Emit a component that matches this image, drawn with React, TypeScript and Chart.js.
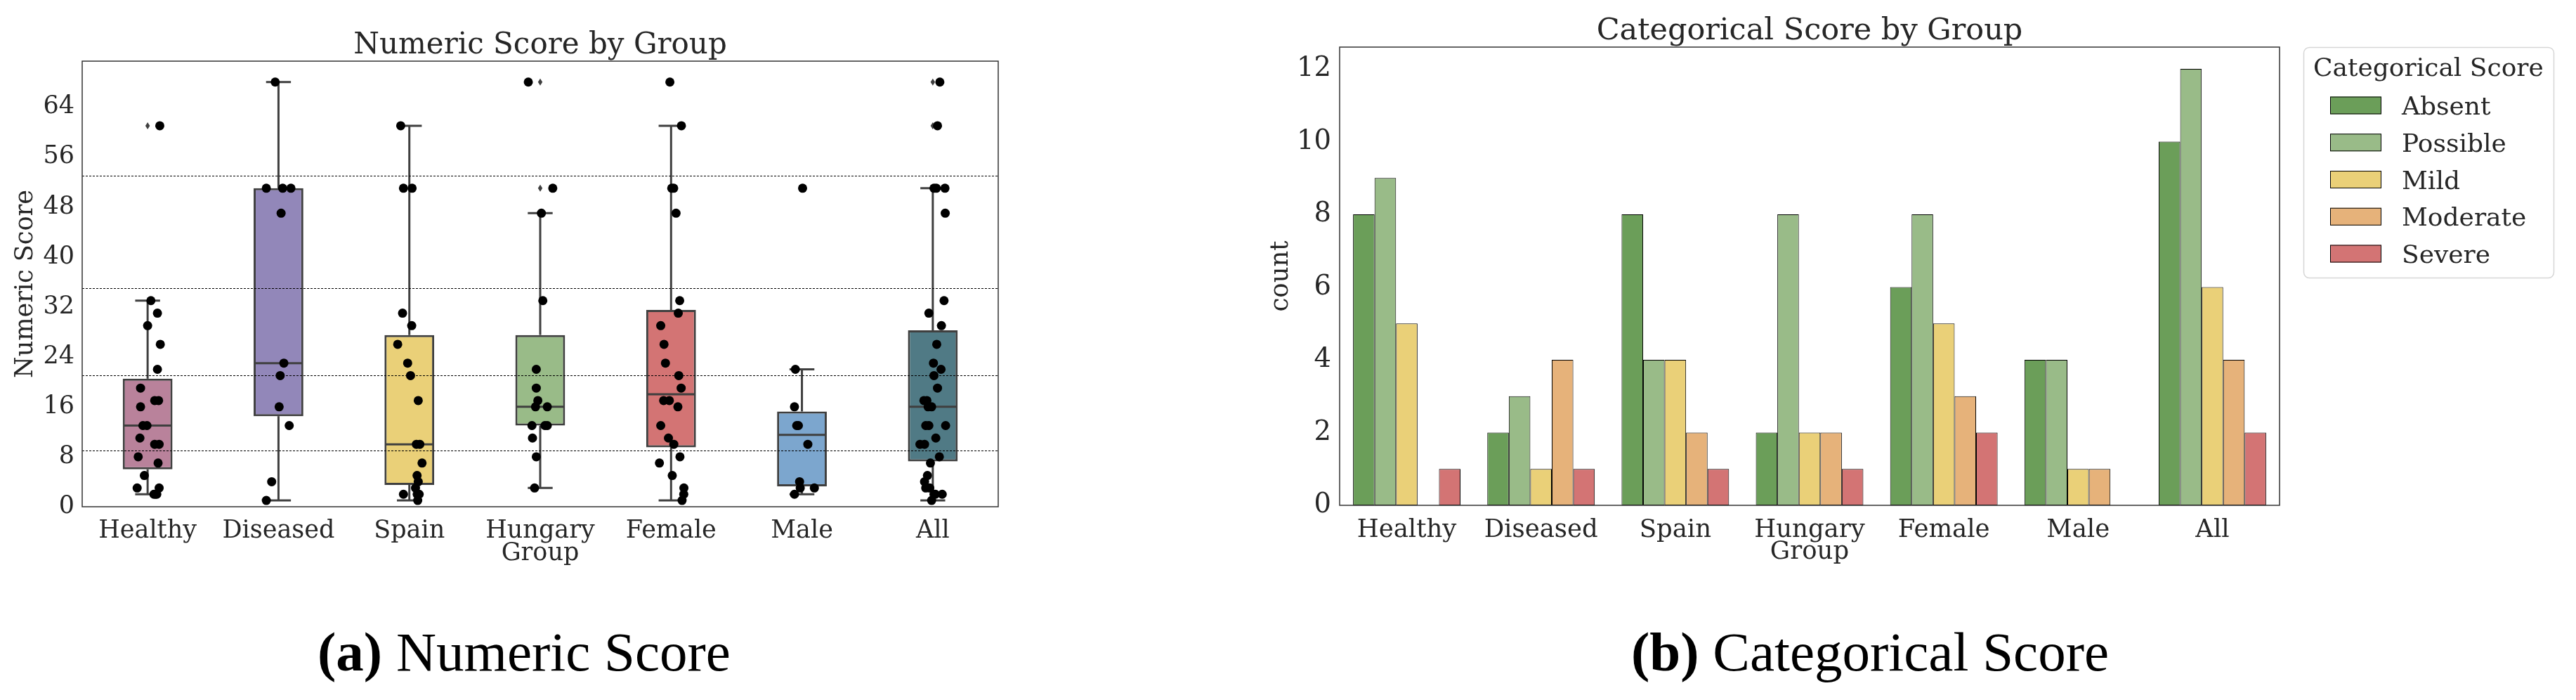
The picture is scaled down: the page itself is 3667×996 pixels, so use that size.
import React, { useEffect, useRef } from 'react';
import { Chart, registerables } from 'chart.js';

Chart.register(...registerables);

// ---------------- data ----------------
const groups = ['Healthy', 'Diseased', 'Spain', 'Hungary', 'Female', 'Male', 'All'];

const healthyScores = [61, 33, 31, 29, 26, 22, 19, 17, 17, 16, 13, 13, 11, 10, 10, 8, 7, 5, 3, 3, 2, 2, 2];
const diseasedScores = [68, 51, 51, 51, 47, 23, 21, 16, 13, 4, 1];
const spainScores = [61, 51, 51, 31, 29, 26, 23, 21, 17, 10, 10, 7, 5, 4, 3, 2, 2, 2, 1];
const hungaryScores = [68, 51, 47, 33, 22, 19, 17, 16, 16, 13, 13, 13, 11, 8, 3];
const femaleScores = [68, 61, 51, 51, 47, 33, 31, 29, 26, 23, 21, 19, 17, 17, 16, 13, 11, 10, 8, 7, 5, 3, 2, 1];
const maleScores = [51, 22, 16, 13, 13, 10, 4, 3, 3, 2];
const allScores = [68, 61, 51, 51, 51, 47, 33, 31, 29, 26, 23, 22, 21, 19, 17, 17, 16, 16, 13, 13, 13, 11, 10, 10, 8, 7, 5, 4, 3, 3, 2, 2, 2, 1];

// horizontal strip-plot jitter (fraction of a category)
const healthyJitter = [0.093, 0.025, 0.075, 0, 0.097, 0.075, -0.054, 0.054, 0.084, -0.054, -0.036, -0.005, -0.059, 0.054, 0.088, -0.072, 0.08, -0.025, -0.08, 0.088, 0.048, 0.07, 0.06];
const diseasedJitter = [-0.025, -0.093, 0.032, 0.095, 0.02, 0.041, 0.013, 0.005, 0.082, -0.052, -0.093];
const spainJitter = [-0.066, -0.045, 0.021, -0.052, 0.018, -0.089, -0.013, 0.009, 0.068, 0.054, 0.08, 0.097, 0.059, 0.068, 0.047, -0.045, 0.075, 0.06, 0.064];
const hungaryJitter = [-0.091, 0.096, 0.009, 0.02, -0.03, -0.03, -0.018, -0.036, 0.054, -0.063, 0.036, 0.054, -0.059, -0.03, -0.043];
const femaleJitter = [-0.009, 0.079, 0.005, 0.02, 0.038, 0.066, 0.055, -0.079, -0.054, -0.043, 0.059, 0.077, -0.057, -0.013, 0.052, -0.079, -0.02, 0.021, 0.068, -0.089, 0.009, 0.098, 0.097, 0.084];
const maleJitter = [0.005, -0.05, -0.057, -0.027, -0.04, 0.045, -0.018, -0.013, 0.095, -0.057];
const allJitter = [0.054, 0.036, 0.009, 0.027, 0.093, 0.095, 0.086, -0.03, 0.066, 0.03, 0.005, 0.063, 0.009, 0.036, -0.068, -0.045, -0.036, -0.009, -0.054, -0.03, 0.098, 0.023, -0.098, -0.063, 0.05, -0.018, -0.041, -0.063, -0.054, -0.023, 0.009, 0.072, 0.02, -0.009];

const scoreThresholds = [9, 21, 35, 53];
const numericTicks = [0, 8, 16, 24, 32, 40, 48, 56, 64];

const scoreCategories = ['Absent', 'Possible', 'Mild', 'Moderate', 'Severe'];
const absentCounts = [8, 2, 8, 2, 6, 4, 10];
const possibleCounts = [9, 3, 4, 8, 8, 4, 12];
const mildCounts = [5, 1, 4, 2, 5, 1, 6];
const moderateCounts = [0, 4, 2, 2, 3, 1, 4];
const severeCounts = [1, 1, 1, 1, 2, 0, 2];

// ---------------- styles ----------------
const FONT = "'DejaVu Serif', serif";
const TEXT = '#262626';
const EDGE = '#3f3f3f';
const boxColors = ['#b9829b', '#9287b9', '#ead078', '#99bb88', '#d37474', '#7ca6ce', '#507a85'];
const barColors = ['#6b9e59', '#99bb88', '#ead078', '#e6b27a', '#d37474'];

const groupScores = [healthyScores, diseasedScores, spainScores, hungaryScores, femaleScores, maleScores, allScores];
const groupJitter = [healthyJitter, diseasedJitter, spainJitter, hungaryJitter, femaleJitter, maleJitter, allJitter];
const countSeries = [absentCounts, possibleCounts, mildCounts, moderateCounts, severeCounts];

function quantile(sorted: number[], p: number) {
  const pos = (sorted.length - 1) * p;
  const lo = Math.floor(pos);
  const hi = Math.ceil(pos);
  return sorted[lo] + (sorted[hi] - sorted[lo]) * (pos - lo);
}

function boxStats(values: number[]) {
  const s = [...values].sort((a, b) => a - b);
  const q1 = quantile(s, 0.25);
  const med = quantile(s, 0.5);
  const q3 = quantile(s, 0.75);
  const iqr = q3 - q1;
  const lo = q1 - 1.5 * iqr;
  const hi = q3 + 1.5 * iqr;
  const inside = s.filter((v) => v >= lo && v <= hi);
  return { q1, med, q3, wlo: inside[0], whi: inside[inside.length - 1], fliers: s.filter((v) => v < lo || v > hi) };
}

const frame = (color: string, width: number) => ({
  id: 'frame',
  afterDraw(chart: any) {
    const { ctx, chartArea: a } = chart;
    ctx.save();
    ctx.strokeStyle = color;
    ctx.lineWidth = width;
    ctx.strokeRect(a.left, a.top, a.right - a.left, a.bottom - a.top);
    ctx.restore();
  },
});

function NumericChart() {
  const ref = useRef<HTMLCanvasElement>(null);
  useEffect(() => {
    const stats = groupScores.map(boxStats);
    const points = groupScores.flatMap((vals, gi) => vals.map((v, k) => ({ x: gi + groupJitter[gi][k], y: v })));

    const boxExtras = {
      id: 'boxExtras',
      afterDatasetDraw(chart: any, args: any) {
        if (args.index !== 0) return;
        const { ctx, chartArea } = chart;
        const ys = chart.scales.y;
        const xs = chart.scales.x;
        const meta = chart.getDatasetMeta(0);
        const line = (x1: number, y1: number, x2: number, y2: number) => {
          ctx.beginPath();
          ctx.moveTo(x1, y1);
          ctx.lineTo(x2, y2);
          ctx.stroke();
        };
        ctx.save();
        ctx.strokeStyle = EDGE;
        ctx.lineWidth = 3;
        ctx.lineCap = 'butt';
        stats.forEach((s, i) => {
          const bar = meta.data[i];
          const cx = xs.getPixelForValue(i);
          const hw = bar.width / 2;
          const py = (v: number) => ys.getPixelForValue(v);
          line(cx, py(s.q3), cx, py(s.whi));
          line(cx, py(s.q1), cx, py(s.wlo));
          line(cx - hw / 2, py(s.whi), cx + hw / 2, py(s.whi));
          line(cx - hw / 2, py(s.wlo), cx + hw / 2, py(s.wlo));
          line(cx - hw + 1.5, py(s.med), cx + hw - 1.5, py(s.med));
          ctx.fillStyle = EDGE;
          s.fliers.forEach((f) => {
            const fy = py(f);
            ctx.beginPath();
            ctx.moveTo(cx, fy - 5);
            ctx.lineTo(cx + 3.2, fy);
            ctx.lineTo(cx, fy + 5);
            ctx.lineTo(cx - 3.2, fy);
            ctx.closePath();
            ctx.fill();
          });
        });
        ctx.strokeStyle = '#000';
        ctx.lineWidth = 1.2;
        ctx.setLineDash([3, 2]);
        scoreThresholds.forEach((t) => {
          const ty = Math.round(ys.getPixelForValue(t)) + 0.5;
          line(chartArea.left, ty, chartArea.right, ty);
        });
        ctx.restore();
      },
    };

    const chart = new Chart(ref.current as HTMLCanvasElement, {
      type: 'bar',
      data: {
        labels: groups,
        datasets: [
          {
            type: 'bar',
            label: 'box',
            data: stats.map((s) => [s.q1, s.q3]) as any,
            backgroundColor: boxColors,
            borderColor: EDGE,
            borderWidth: 3,
            borderSkipped: false,
            grouped: false,
            barPercentage: 0.38,
            categoryPercentage: 1,
            order: 2,
            xAxisID: 'x',
            yAxisID: 'y',
          } as any,
          {
            type: 'scatter',
            label: 'points',
            data: points,
            backgroundColor: '#000',
            borderWidth: 0,
            pointRadius: 6.5,
            order: 1,
            xAxisID: 'xj',
            yAxisID: 'y',
          } as any,
        ],
      },
      options: {
        animation: false,
        responsive: false,
        devicePixelRatio: 1,
        events: [],
        layout: { padding: { left: 0, right: 59, top: 0, bottom: 0 } },
        plugins: {
          legend: { display: false },
          tooltip: { enabled: false },
          title: {
            display: true,
            text: 'Numeric Score by Group',
            color: TEXT,
            font: { family: FONT, size: 42, weight: 'normal', lineHeight: 1 },
            padding: { top: 44, bottom: 1 },
            fullSize: false,
          },
        },
        scales: {
          x: {
            type: 'category',
            offset: true,
            grid: { display: false },
            border: { display: false },
            ticks: { color: TEXT, font: { family: FONT, size: 35 }, padding: 6, maxRotation: 0 },
            title: { display: true, text: 'Group', color: TEXT, font: { family: FONT, size: 35 }, padding: { top: 0, bottom: 31 } },
            afterFit: (s: any) => { s.height = 119; },
          },
          xj: { type: 'linear', position: 'bottom', min: -0.5, max: 6.5, offset: false, display: false, grid: { offset: false } },
          y: {
            type: 'linear',
            min: 0,
            max: 71.35,
            grid: { display: false, drawTicks: false },
            border: { display: false },
            afterBuildTicks: (s: any) => { s.ticks = numericTicks.map((v) => ({ value: v })); },
            ticks: { color: TEXT, font: { family: FONT, size: 35 }, padding: 11 },
            title: { display: true, text: 'Numeric Score', color: TEXT, font: { family: FONT, size: 35 }, padding: { top: 16, bottom: 0 } },
            afterFit: (s: any) => { s.width = 117; },
          },
        },
      } as any,
      plugins: [boxExtras, frame('#333333', 1.5)],
    });
    return () => chart.destroy();
  }, []);
  return <canvas ref={ref} width={1480} height={840} style={{ position: 'absolute', left: 0, top: 0, width: 1480, height: 840 }} />;
}

function CategoricalChart() {
  const ref = useRef<HTMLCanvasElement>(null);
  useEffect(() => {
    const legendBox = {
      id: 'legendBox',
      afterDraw(chart: any) {
        const { ctx, chartArea: a } = chart;
        const left = a.right + 34;
        const top = a.top;
        const w = 356;
        const h = 328;
        ctx.save();
        ctx.beginPath();
        ctx.roundRect(left + 0.5, top + 0.5, w, h, 8);
        ctx.fillStyle = '#ffffff';
        ctx.fill();
        ctx.strokeStyle = '#d6d6d6';
        ctx.lineWidth = 1.5;
        ctx.stroke();
        ctx.font = `36px ${FONT}`;
        ctx.textAlign = 'left';
        ctx.textBaseline = 'alphabetic';
        ctx.fillStyle = TEXT;
        ctx.fillText('Categorical Score', left + 14, top + 41);
        chart.data.datasets.forEach((ds: any, i: number) => {
          const cy = top + 83 + i * 52.75;
          ctx.fillStyle = ds.backgroundColor;
          ctx.fillRect(left + 38, cy - 12.5, 73, 25);
          ctx.strokeStyle = '#000';
          ctx.lineWidth = 1;
          ctx.strokeRect(left + 38.5, cy - 12, 72, 24);
          ctx.fillStyle = TEXT;
          ctx.fillText(ds.label, left + 140, cy + 13);
        });
        ctx.restore();
      },
    };

    const chart = new Chart(ref.current as HTMLCanvasElement, {
      type: 'bar',
      data: {
        labels: groups,
        datasets: scoreCategories.map((c, i) => ({
          label: c,
          data: countSeries[i],
          backgroundColor: barColors[i],
          borderColor: '#000',
          borderWidth: 1,
          borderSkipped: false,
          categoryPercentage: 0.8,
          barPercentage: 1,
        })),
      },
      options: {
        animation: false,
        responsive: false,
        devicePixelRatio: 1,
        events: [],
        layout: { padding: { left: 0, right: 422, top: 0, bottom: 0 } },
        plugins: {
          legend: { display: false },
          tooltip: { enabled: false },
          title: {
            display: true,
            text: 'Categorical Score by Group',
            color: TEXT,
            font: { family: FONT, size: 43, weight: 'normal', lineHeight: 1 },
            padding: { top: 23, bottom: 1 },
            fullSize: false,
          },
        },
        scales: {
          x: {
            type: 'category',
            offset: true,
            grid: { display: false },
            border: { display: false },
            ticks: { color: TEXT, font: { family: FONT, size: 35.5 }, padding: 6, maxRotation: 0 },
            title: { display: true, text: 'Group', color: TEXT, font: { family: FONT, size: 35.5 }, padding: { top: 0, bottom: 33 } },
            afterFit: (s: any) => { s.height = 121; },
          },
          y: {
            type: 'linear',
            min: 0,
            max: 12.6,
            grid: { display: false, drawTicks: false },
            border: { display: false },
            ticks: { stepSize: 2, includeBounds: false, color: TEXT, font: { family: FONT, size: 38.5 }, padding: 12 },
            title: { display: true, text: 'count', color: TEXT, font: { family: FONT, size: 35.5 }, padding: { top: 102, bottom: 0 } },
            afterFit: (s: any) => { s.width = 207; },
          },
        },
      } as any,
      plugins: [frame('#333333', 1.5), legendBox],
    });
    return () => chart.destroy();
  }, []);
  return <canvas ref={ref} width={1967} height={840} style={{ position: 'absolute', left: 1700, top: 0, width: 1967, height: 840 }} />;
}

const captionStyle: React.CSSProperties = {
  position: 'absolute',
  top: 888,
  fontFamily: "'Liberation Serif', serif",
  fontSize: 79,
  lineHeight: 1,
  textAlign: 'center',
  color: '#000',
  whiteSpace: 'nowrap',
};

export default function App() {
  return (
    <div style={{ position: 'absolute', left: 0, top: 0, width: 3667, height: 996, background: '#fff', overflow: 'hidden' }}>
      <NumericChart />
      <CategoricalChart />
      <div style={{ ...captionStyle, left: 246, width: 1000 }}>
        <b>(a)</b> Numeric Score
      </div>
      <div style={{ ...captionStyle, left: 2162, width: 1000 }}>
        <b>(b)</b> Categorical Score
      </div>
    </div>
  );
}
